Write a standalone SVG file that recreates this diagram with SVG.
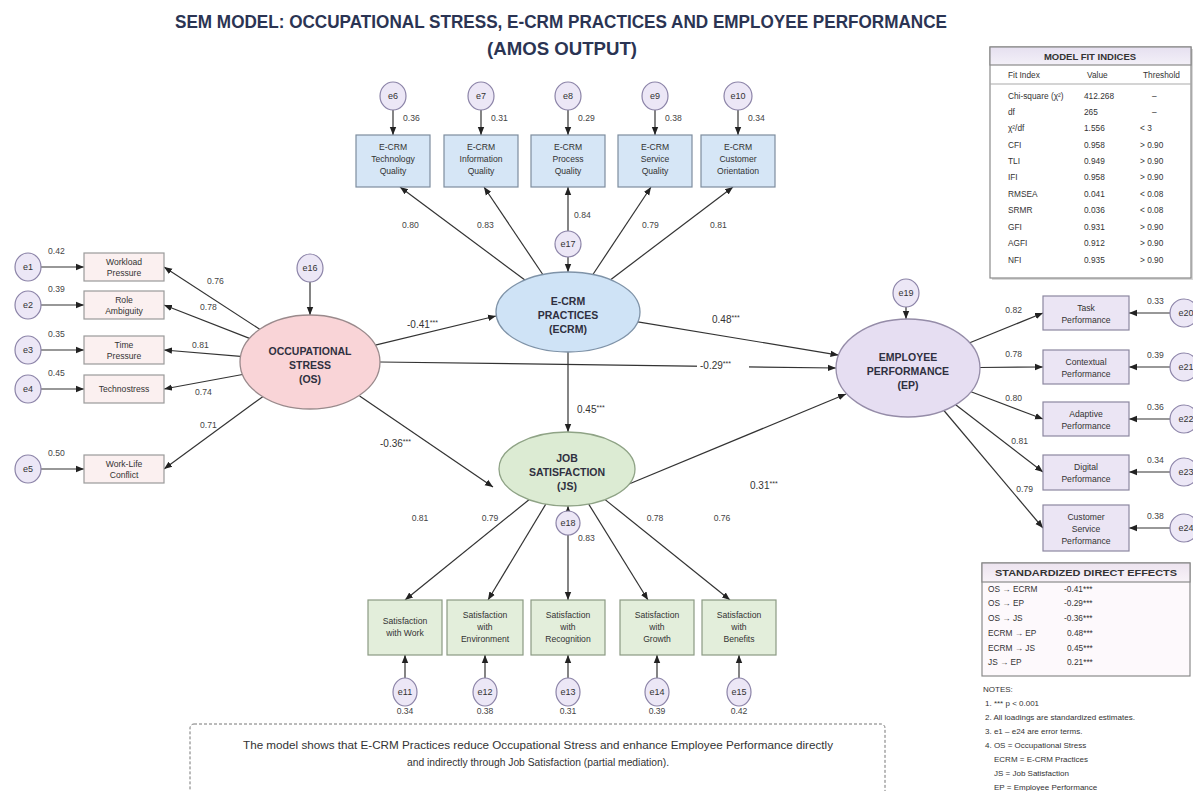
<svg xmlns="http://www.w3.org/2000/svg" width="1193" height="791" viewBox="0 0 1193 791">
<defs>
<marker id="ah" viewBox="0 0 10 10" refX="10" refY="5" markerUnits="userSpaceOnUse" markerWidth="8" markerHeight="8" orient="auto"><path d="M0,1 L10,5 L0,9 z" fill="#222"/></marker>
<linearGradient id="hdr" x1="0" y1="0" x2="0" y2="1"><stop offset="0" stop-color="#e6e0f0"/><stop offset="1" stop-color="#f3f0f8"/></linearGradient>
<linearGradient id="hdr2" x1="0" y1="0" x2="0" y2="1"><stop offset="0" stop-color="#ece3ef"/><stop offset="1" stop-color="#f8f3f8"/></linearGradient>
</defs>
<style>
text{font-family:"Liberation Sans",Arial,sans-serif;}
.title{font-size:19px;font-weight:bold;fill:#2b3453;text-anchor:middle}
.bx{font-size:8.6px;fill:#333;text-anchor:middle}
.lat{font-size:10.5px;font-weight:bold;fill:#2f3040;text-anchor:middle}
.ld{font-size:8.6px;fill:#444}
.pth{font-size:10px;fill:#333}
.st{font-size:7px}
.et{font-size:9px;fill:#333;text-anchor:middle}
.err{fill:#ece7f6;stroke:#8c84a8;stroke-width:1.2}
.bt{fill:#d6e6f6;stroke:#7d8d9e;stroke-width:1.2}
.bl{fill:#fbf0f0;stroke:#9a9a9a;stroke-width:1.2}
.bb{fill:#e3eedb;stroke:#8b9a83;stroke-width:1.2}
.br{fill:#ebe5f4;stroke:#8c87a0;stroke-width:1.2}
.ln{stroke:#333;stroke-width:1.2;fill:none;marker-end:url(#ah)}
.tb{font-size:8.3px;fill:#333}
.tbh{font-size:9.5px;font-weight:bold;fill:#333;text-anchor:middle}
.nt{font-size:8px;fill:#333}
</style>
<rect width="1193" height="791" fill="#ffffff"/>
<g id="title">
<text class="title" x="561" y="28" textLength="772" lengthAdjust="spacingAndGlyphs">SEM MODEL: OCCUPATIONAL STRESS, E-CRM PRACTICES AND EMPLOYEE PERFORMANCE</text>
<text class="title" x="562" y="55" textLength="150" lengthAdjust="spacingAndGlyphs">(AMOS OUTPUT)</text>
</g>

<g id="connectors">
<!-- OS to left indicators -->
<line class="ln" x1="259.7" y1="329.3" x2="164" y2="267"/>
<line class="ln" x1="249.5" y1="338.4" x2="164" y2="305"/>
<line class="ln" x1="240.5" y1="356.3" x2="164" y2="350"/>
<line class="ln" x1="242.5" y1="374.5" x2="164" y2="389"/>
<line class="ln" x1="262.7" y1="396.7" x2="164" y2="469"/>
<!-- left errors -->
<line class="ln" x1="41" y1="267" x2="84" y2="267"/>
<line class="ln" x1="41" y1="305" x2="84" y2="305"/>
<line class="ln" x1="41" y1="350" x2="84" y2="350"/>
<line class="ln" x1="41" y1="389" x2="84" y2="389"/>
<line class="ln" x1="41" y1="469" x2="84" y2="469"/>
<!-- ECRM to top indicators -->
<line class="ln" x1="524.9" y1="280" x2="400" y2="187"/>
<line class="ln" x1="542.8" y1="274.5" x2="484" y2="187"/>
<line class="ln" x1="568" y1="231" x2="568" y2="187"/>
<line class="ln" x1="592.9" y1="274.5" x2="651" y2="187"/>
<line class="ln" x1="610.6" y1="279.7" x2="733" y2="187"/>
<line class="ln" x1="568" y1="257" x2="568" y2="272"/>
<!-- top errors -->
<line class="ln" x1="393" y1="110" x2="393" y2="135"/>
<line class="ln" x1="481" y1="110" x2="481" y2="135"/>
<line class="ln" x1="568" y1="110" x2="568" y2="135"/>
<line class="ln" x1="655" y1="110" x2="655" y2="135"/>
<line class="ln" x1="738" y1="110" x2="738" y2="135"/>
<!-- EP to right indicators -->
<line class="ln" x1="969.8" y1="342.8" x2="1043" y2="313"/>
<line class="ln" x1="980" y1="367.5" x2="1043" y2="367"/>
<line class="ln" x1="971" y1="391.8" x2="1043" y2="419"/>
<line class="ln" x1="955.7" y1="404.7" x2="1043" y2="472"/>
<line class="ln" x1="943.9" y1="410.5" x2="1043" y2="528"/>
<!-- right errors -->
<line class="ln" x1="1170" y1="313" x2="1129" y2="313"/>
<line class="ln" x1="1170" y1="367" x2="1129" y2="367"/>
<line class="ln" x1="1170" y1="419" x2="1129" y2="419"/>
<line class="ln" x1="1170" y1="472" x2="1129" y2="472"/>
<line class="ln" x1="1170" y1="528" x2="1129" y2="528"/>
<!-- JS to bottom indicators -->
<line class="ln" x1="529" y1="499.7" x2="405" y2="600"/>
<line class="ln" x1="545.8" y1="504.1" x2="488" y2="600"/>
<line class="ln" x1="568" y1="535" x2="568" y2="600"/>
<line class="ln" x1="588.7" y1="504.1" x2="648" y2="600"/>
<line class="ln" x1="605.1" y1="499.6" x2="730" y2="600"/>
<line class="ln" x1="568" y1="523" x2="568" y2="506"/>
<!-- bottom errors -->
<line class="ln" x1="405" y1="678" x2="405" y2="655"/>
<line class="ln" x1="485" y1="678" x2="485" y2="655"/>
<line class="ln" x1="568" y1="678" x2="568" y2="655"/>
<line class="ln" x1="657" y1="678" x2="657" y2="655"/>
<line class="ln" x1="739" y1="678" x2="739" y2="655"/>
<!-- structural -->
<line class="ln" x1="375.3" y1="345.1" x2="496" y2="316"/>
<line class="ln" x1="637.8" y1="321.8" x2="838.5" y2="355.1"/>
<line class="ln" x1="380" y1="362" x2="836" y2="368"/>
<line class="ln" x1="568" y1="352" x2="568" y2="432"/>
<line class="ln" x1="359.6" y1="395.9" x2="493" y2="487"/>
<line class="ln" x1="629" y1="484" x2="846" y2="394"/>
<line class="ln" x1="310" y1="282" x2="310" y2="315"/>
<line class="ln" x1="906" y1="307" x2="906" y2="319"/>
<!-- labels -->
<g class="ld">
<text x="207" y="284">0.76</text>
<text x="200" y="310">0.78</text>
<text x="192" y="348">0.81</text>
<text x="195" y="395">0.74</text>
<text x="200" y="428">0.71</text>
<text x="48" y="254">0.42</text>
<text x="48" y="292">0.39</text>
<text x="48" y="337">0.35</text>
<text x="48" y="376">0.45</text>
<text x="48" y="456">0.50</text>
<text x="403" y="121">0.36</text>
<text x="491" y="121">0.31</text>
<text x="578" y="121">0.29</text>
<text x="665" y="121">0.38</text>
<text x="748" y="121">0.34</text>
<text x="402" y="228">0.80</text>
<text x="477" y="228">0.83</text>
<text x="574" y="218">0.84</text>
<text x="642" y="228">0.79</text>
<text x="710" y="228">0.81</text>
<text x="1022" y="313" text-anchor="end">0.82</text>
<text x="1022" y="357" text-anchor="end">0.78</text>
<text x="1022" y="401" text-anchor="end">0.80</text>
<text x="1028" y="444" text-anchor="end">0.81</text>
<text x="1033" y="492" text-anchor="end">0.79</text>
<text x="1147" y="304">0.33</text>
<text x="1147" y="358">0.39</text>
<text x="1147" y="410">0.36</text>
<text x="1147" y="463">0.34</text>
<text x="1147" y="519">0.38</text>
<text x="420" y="521" text-anchor="middle">0.81</text>
<text x="490" y="521" text-anchor="middle">0.79</text>
<text x="578" y="541">0.83</text>
<text x="655" y="521" text-anchor="middle">0.78</text>
<text x="722" y="521" text-anchor="middle">0.76</text>
<text x="405" y="714" text-anchor="middle">0.34</text>
<text x="485" y="714" text-anchor="middle">0.38</text>
<text x="568" y="714" text-anchor="middle">0.31</text>
<text x="657" y="714" text-anchor="middle">0.39</text>
<text x="739" y="714" text-anchor="middle">0.42</text>
</g>
<rect x="697" y="359" width="52" height="13" fill="#ffffff"/>
<g class="pth">
<text x="407" y="328">-0.41<tspan class="st" dy="-3">***</tspan></text>
<text x="712" y="323">0.48<tspan class="st" dy="-3">***</tspan></text>
<text x="700" y="369">-0.29<tspan class="st" dy="-3">***</tspan></text>
<text x="577" y="413">0.45<tspan class="st" dy="-3">***</tspan></text>
<text x="380" y="447">-0.36<tspan class="st" dy="-3">***</tspan></text>
<text x="750" y="489">0.31<tspan class="st" dy="-3">***</tspan></text>
</g>
</g>

<g id="OS"><ellipse cx="310" cy="362" rx="70" ry="47" fill="#f9d4d7" stroke="#9a8a8c" stroke-width="1.3"/><text class="lat" x="310" y="355">OCCUPATIONAL</text><text class="lat" x="310" y="369">STRESS</text><text class="lat" x="310" y="383">(OS)</text></g>
<g id="ECRM"><ellipse cx="568" cy="312" rx="72" ry="40" fill="#cfe3f6" stroke="#7f93a8" stroke-width="1.3"/><text class="lat" x="568" y="305">E-CRM</text><text class="lat" x="568" y="319">PRACTICES</text><text class="lat" x="568" y="333">(ECRM)</text></g>
<g id="JS"><ellipse cx="567" cy="469" rx="68" ry="37" fill="#dcebd3" stroke="#8fa386" stroke-width="1.3"/><text class="lat" x="567" y="462">JOB</text><text class="lat" x="567" y="476">SATISFACTION</text><text class="lat" x="567" y="490">(JS)</text></g>
<g id="EP"><ellipse cx="908" cy="368" rx="72" ry="49" fill="#e6def2" stroke="#958ca8" stroke-width="1.3"/><text class="lat" x="908" y="361">EMPLOYEE</text><text class="lat" x="908" y="375">PERFORMANCE</text><text class="lat" x="908" y="389">(EP)</text></g>

<g id="e16"><ellipse class="err" cx="310" cy="268" rx="13" ry="14"/><text class="et" x="310" y="271">e16</text></g>
<g id="e17"><ellipse class="err" cx="568" cy="244" rx="13" ry="13"/><text class="et" x="568" y="247">e17</text></g>
<g id="e18"><ellipse class="err" cx="568" cy="523" rx="12" ry="12"/><text class="et" x="568" y="526">e18</text></g>
<g id="e19"><ellipse class="err" cx="906" cy="293" rx="13" ry="14"/><text class="et" x="906" y="296">e19</text></g>

<g id="x1"><rect class="bl" x="84" y="253" width="80" height="28"/><text class="bx" x="124" y="265">Workload</text><text class="bx" x="124" y="276">Pressure</text></g>
<g id="x2"><rect class="bl" x="84" y="291" width="80" height="28"/><text class="bx" x="124" y="303">Role</text><text class="bx" x="124" y="314">Ambiguity</text></g>
<g id="x3"><rect class="bl" x="84" y="336" width="80" height="28"/><text class="bx" x="124" y="348">Time</text><text class="bx" x="124" y="359">Pressure</text></g>
<g id="x4"><rect class="bl" x="84" y="375" width="80" height="28"/><text class="bx" x="124" y="392">Technostress</text></g>
<g id="x5"><rect class="bl" x="84" y="455" width="80" height="28"/><text class="bx" x="124" y="467">Work-Life</text><text class="bx" x="124" y="478">Conflict</text></g>
<g id="e1"><ellipse class="err" cx="28" cy="267" rx="13" ry="14"/><text class="et" x="28" y="270">e1</text></g>
<g id="e2"><ellipse class="err" cx="28" cy="305" rx="13" ry="14"/><text class="et" x="28" y="308">e2</text></g>
<g id="e3"><ellipse class="err" cx="28" cy="350" rx="13" ry="14"/><text class="et" x="28" y="353">e3</text></g>
<g id="e4"><ellipse class="err" cx="28" cy="389" rx="13" ry="14"/><text class="et" x="28" y="392">e4</text></g>
<g id="e5"><ellipse class="err" cx="28" cy="469" rx="13" ry="14"/><text class="et" x="28" y="472">e5</text></g>

<g id="x6"><rect class="bt" x="356" y="135" width="74" height="52"/><text class="bx" x="393" y="150">E-CRM</text><text class="bx" x="393" y="162">Technology</text><text class="bx" x="393" y="174">Quality</text></g>
<g id="x7"><rect class="bt" x="444" y="135" width="74" height="52"/><text class="bx" x="481" y="150">E-CRM</text><text class="bx" x="481" y="162">Information</text><text class="bx" x="481" y="174">Quality</text></g>
<g id="x8"><rect class="bt" x="531" y="135" width="74" height="52"/><text class="bx" x="568" y="150">E-CRM</text><text class="bx" x="568" y="162">Process</text><text class="bx" x="568" y="174">Quality</text></g>
<g id="x9"><rect class="bt" x="618" y="135" width="74" height="52"/><text class="bx" x="655" y="150">E-CRM</text><text class="bx" x="655" y="162">Service</text><text class="bx" x="655" y="174">Quality</text></g>
<g id="x10"><rect class="bt" x="701" y="135" width="74" height="52"/><text class="bx" x="738" y="150">E-CRM</text><text class="bx" x="738" y="162">Customer</text><text class="bx" x="738" y="174">Orientation</text></g>
<g id="e6"><ellipse class="err" cx="393" cy="96" rx="13" ry="14"/><text class="et" x="393" y="99">e6</text></g>
<g id="e7"><ellipse class="err" cx="481" cy="96" rx="13" ry="14"/><text class="et" x="481" y="99">e7</text></g>
<g id="e8"><ellipse class="err" cx="568" cy="96" rx="13" ry="14"/><text class="et" x="568" y="99">e8</text></g>
<g id="e9"><ellipse class="err" cx="655" cy="96" rx="13" ry="14"/><text class="et" x="655" y="99">e9</text></g>
<g id="e10"><ellipse class="err" cx="738" cy="96" rx="14" ry="14"/><text class="et" x="738" y="99">e10</text></g>

<g id="x11"><rect class="bb" x="368" y="600" width="74" height="55"/><text class="bx" x="405" y="624">Satisfaction</text><text class="bx" x="405" y="636">with Work</text></g>
<g id="x12"><rect class="bb" x="447" y="600" width="76" height="55"/><text class="bx" x="485" y="618">Satisfaction</text><text class="bx" x="485" y="630">with</text><text class="bx" x="485" y="642">Environment</text></g>
<g id="x13"><rect class="bb" x="531" y="600" width="74" height="55"/><text class="bx" x="568" y="618">Satisfaction</text><text class="bx" x="568" y="630">with</text><text class="bx" x="568" y="642">Recognition</text></g>
<g id="x14"><rect class="bb" x="620" y="600" width="74" height="55"/><text class="bx" x="657" y="618">Satisfaction</text><text class="bx" x="657" y="630">with</text><text class="bx" x="657" y="642">Growth</text></g>
<g id="x15"><rect class="bb" x="702" y="600" width="74" height="55"/><text class="bx" x="739" y="618">Satisfaction</text><text class="bx" x="739" y="630">with</text><text class="bx" x="739" y="642">Benefits</text></g>
<g id="e11"><ellipse class="err" cx="405" cy="692" rx="12" ry="14"/><text class="et" x="405" y="695">e11</text></g>
<g id="e12"><ellipse class="err" cx="485" cy="692" rx="12" ry="14"/><text class="et" x="485" y="695">e12</text></g>
<g id="e13"><ellipse class="err" cx="568" cy="692" rx="12" ry="14"/><text class="et" x="568" y="695">e13</text></g>
<g id="e14"><ellipse class="err" cx="657" cy="692" rx="12" ry="14"/><text class="et" x="657" y="695">e14</text></g>
<g id="e15"><ellipse class="err" cx="739" cy="692" rx="12" ry="14"/><text class="et" x="739" y="695">e15</text></g>

<g id="x20"><rect class="br" x="1043" y="296" width="86" height="34"/><text class="bx" x="1086" y="311">Task</text><text class="bx" x="1086" y="323">Performance</text></g>
<g id="x21"><rect class="br" x="1043" y="350" width="86" height="34"/><text class="bx" x="1086" y="365">Contextual</text><text class="bx" x="1086" y="377">Performance</text></g>
<g id="x22"><rect class="br" x="1043" y="402" width="86" height="34"/><text class="bx" x="1086" y="417">Adaptive</text><text class="bx" x="1086" y="429">Performance</text></g>
<g id="x23"><rect class="br" x="1043" y="455" width="86" height="35"/><text class="bx" x="1086" y="470">Digital</text><text class="bx" x="1086" y="482">Performance</text></g>
<g id="x24"><rect class="br" x="1043" y="505" width="86" height="46"/><text class="bx" x="1086" y="520">Customer</text><text class="bx" x="1086" y="532">Service</text><text class="bx" x="1086" y="544">Performance</text></g>
<g id="e20"><ellipse class="err" cx="1184" cy="313" rx="14" ry="14"/><text class="et" x="1186" y="316">e20</text></g>
<g id="e21"><ellipse class="err" cx="1184" cy="367" rx="14" ry="14"/><text class="et" x="1186" y="370">e21</text></g>
<g id="e22"><ellipse class="err" cx="1184" cy="419" rx="14" ry="14"/><text class="et" x="1186" y="422">e22</text></g>
<g id="e23"><ellipse class="err" cx="1184" cy="472" rx="14" ry="14"/><text class="et" x="1186" y="475">e23</text></g>
<g id="e24"><ellipse class="err" cx="1184" cy="528" rx="14" ry="14"/><text class="et" x="1186" y="531">e24</text></g>

<g id="fit-table">
<rect x="992" y="49" width="201" height="231" fill="#d8d8d8"/>
<rect x="990" y="47" width="201" height="231" fill="#ffffff" stroke="#8a8a8a" stroke-width="1.2"/>
<rect x="990" y="47" width="201" height="18" fill="url(#hdr)" stroke="#8a8a8a" stroke-width="1.2"/>
<text class="tbh" x="1090" y="60">MODEL FIT INDICES</text>
<line x1="990" y1="84" x2="1191" y2="84" stroke="#aaa" stroke-width="1.2"/>
<g class="tb">
<text x="1008" y="78">Fit Index</text><text x="1087" y="78">Value</text><text x="1143" y="78">Threshold</text>
<text x="1008" y="99">Chi-square (χ²)</text><text x="1084" y="99">412.268</text><text x="1152" y="99">–</text>
<text x="1008" y="115">df</text><text x="1084" y="115">265</text><text x="1152" y="115">–</text>
<text x="1008" y="131">χ²/df</text><text x="1084" y="131">1.556</text><text x="1140" y="131">&lt; 3</text>
<text x="1008" y="148">CFI</text><text x="1084" y="148">0.958</text><text x="1140" y="148">&gt; 0.90</text>
<text x="1008" y="164">TLI</text><text x="1084" y="164">0.949</text><text x="1140" y="164">&gt; 0.90</text>
<text x="1008" y="180">IFI</text><text x="1084" y="180">0.958</text><text x="1140" y="180">&gt; 0.90</text>
<text x="1008" y="197">RMSEA</text><text x="1084" y="197">0.041</text><text x="1140" y="197">&lt; 0.08</text>
<text x="1008" y="213">SRMR</text><text x="1084" y="213">0.036</text><text x="1140" y="213">&lt; 0.08</text>
<text x="1008" y="230">GFI</text><text x="1084" y="230">0.931</text><text x="1140" y="230">&gt; 0.90</text>
<text x="1008" y="246">AGFI</text><text x="1084" y="246">0.912</text><text x="1140" y="246">&gt; 0.90</text>
<text x="1008" y="263">NFI</text><text x="1084" y="263">0.935</text><text x="1140" y="263">&gt; 0.90</text>
</g>
</g>

<g id="effects-table">
<rect x="982" y="563" width="208" height="113" fill="#fdf9fc" stroke="#8a8a8a" stroke-width="1.2"/>
<rect x="982" y="563" width="208" height="19" fill="url(#hdr2)" stroke="#8a8a8a" stroke-width="1.2"/>
<text class="tbh" x="1086" y="576" textLength="182" lengthAdjust="spacingAndGlyphs">STANDARDIZED DIRECT EFFECTS</text>
<g class="tb">
<text x="988" y="592">OS → ECRM</text><text x="1064" y="592">-0.41***</text>
<text x="988" y="606">OS → EP</text><text x="1064" y="606">-0.29***</text>
<text x="988" y="621">OS → JS</text><text x="1064" y="621">-0.36***</text>
<text x="988" y="636">ECRM → EP</text><text x="1067" y="636">0.48***</text>
<text x="988" y="651">ECRM → JS</text><text x="1067" y="651">0.45***</text>
<text x="988" y="665">JS → EP</text><text x="1067" y="665">0.21***</text>
</g>
</g>

<g id="notes" class="nt">
<text x="983" y="692">NOTES:</text>
<text x="985" y="706">1. *** p &lt; 0.001</text>
<text x="985" y="720">2. All loadings are standardized estimates.</text>
<text x="985" y="734">3. e1 – e24 are error terms.</text>
<text x="985" y="748">4. OS = Occupational Stress</text>
<text x="994" y="762">ECRM = E-CRM Practices</text>
<text x="994" y="776">JS = Job Satisfaction</text>
<text x="994" y="790">EP = Employee Performance</text>
</g>

<g id="caption">
<rect x="190" y="724" width="695" height="75" rx="4" fill="#ffffff" stroke="#777" stroke-width="1" stroke-dasharray="3 2"/>
<text x="538" y="749" font-size="10" fill="#333" text-anchor="middle" textLength="590" lengthAdjust="spacingAndGlyphs">The model shows that E-CRM Practices reduce Occupational Stress and enhance Employee Performance directly</text>
<text x="538" y="766" font-size="10" fill="#333" text-anchor="middle" textLength="262" lengthAdjust="spacingAndGlyphs">and indirectly through Job Satisfaction (partial mediation).</text>
</g>
</svg>
